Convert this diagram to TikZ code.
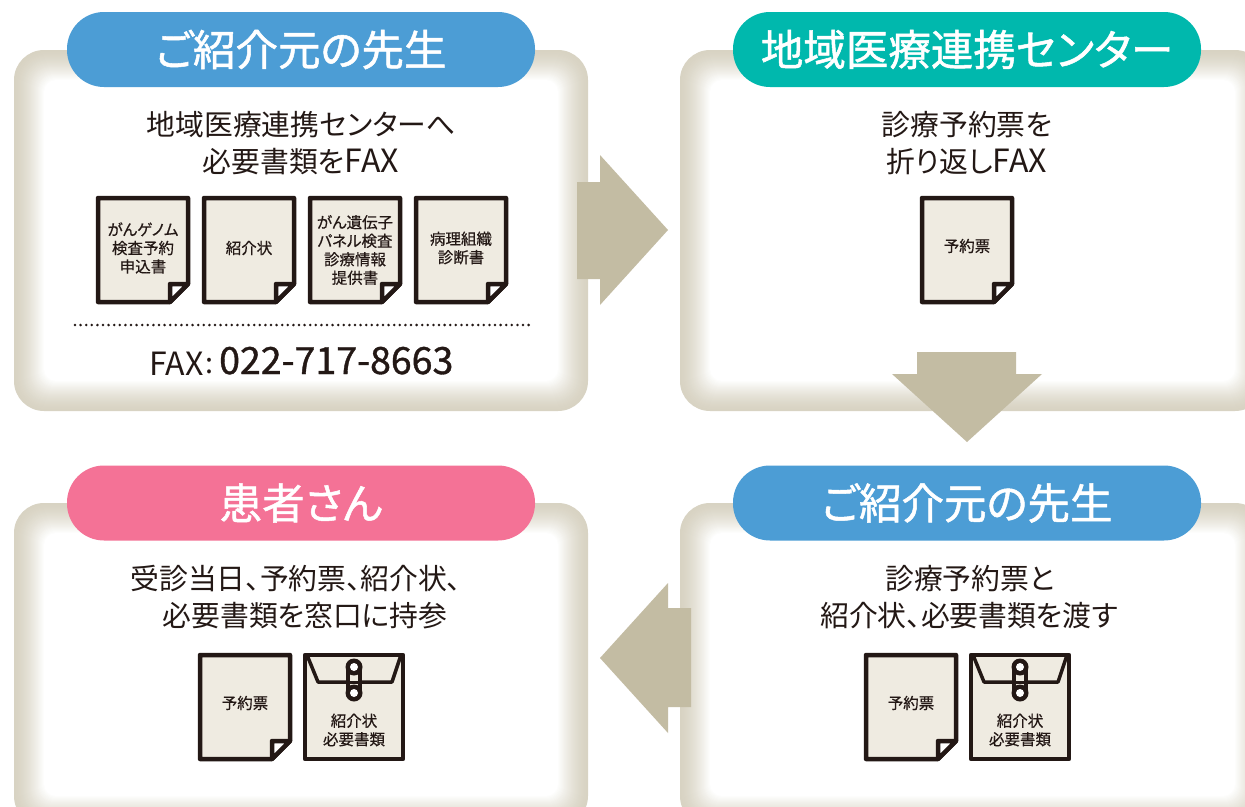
\documentclass[tikz,border=0pt]{standalone}
\usepackage{fontspec}
\setmainfont[RawFeature=+palt]{Noto Sans CJK JP}
\newfontfamily\headfont[FakeBold=1.2,RawFeature=+palt]{Noto Sans CJK JP}
\newfontfamily\numfont[FakeBold=1]{Noto Sans CJK JP}
\newfontfamily\labelfont[FakeBold=0.5,RawFeature=+palt]{Noto Sans CJK JP}
\definecolor{panelbeige}{HTML}{D8D3C3}
\definecolor{arrowbeige}{HTML}{C3BCA3}
\definecolor{paperbeige}{HTML}{EFEBE1}
\definecolor{inkdark}{HTML}{231815}
\definecolor{pillblue}{HTML}{4C9DD5}
\definecolor{pillteal}{HTML}{00B8AD}
\definecolor{pillpink}{HTML}{F47296}
\tikzset{
	headpill/.style={rounded corners=37pt,minimum width=468pt,minimum height=75pt,inner sep=0pt,text=white,font=\headfont\fontsize{42.5}{42.5}\selectfont},
	bodytext/.style={text=inkdark,inner sep=0pt,font=\fontsize{28.8}{28.8}\selectfont},
	doctext/.style={text=inkdark,inner sep=0pt,align=center,font=\labelfont\fontsize{15.5}{18.5}\selectfont},
	sheetline/.style={draw=inkdark,line width=4.5pt,line join=round},
	bigarrow/.style={fill=arrowbeige,draw=none}
}
\newcommand{\faxword}{{\fontsize{32}{32}\selectfont FAX}}
% soft edged panel: x0, y0, x1, y1
\newcommand{\softpanel}[4]{
	\foreach \i in {0,...,30}{
		\pgfmathsetmacro{\mixval}{100*(\i/30)^1.5}
		\fill [white!\mixval!panelbeige,rounded corners={max(30-\i*0.6,6)*1pt}] (#1+\i,#2+\i) rectangle (#3-\i,#4-\i);
	}
}
% sheet with folded corner: [text shift], name, x, y, text
\newcommand{\docsheet}[5][50]{
	\draw [sheetline,fill=paperbeige] (#3,#4)--(#3+90,#4)--(#3+90,#4+86)--(#3+72,#4+104)--(#3,#4+104)--cycle;
	\draw [sheetline,fill=white] (#3+72,#4+104)--(#3+72,#4+86)--(#3+90,#4+86)--cycle;
	\node [doctext] (#2) at (#3+45,#4+#1) {#5};
}
% envelope with string fastening: name, x, y
\newcommand{\envelope}[3]{
	\draw [sheetline,fill=paperbeige] (#2,#3)--(#2+98,#3)--(#2+98,#3+104)--(#2,#3+104)--cycle;
	\draw [inkdark,line width=3.5pt,line join=round] (#2+2,#3)--(#2+13,#3+27)--(#2+87,#3+27)--(#2+96,#3);
	\fill [inkdark] (#2+41,#3+12) rectangle (#2+57,#3+38);
	\fill [paperbeige] (#2+45,#3+14) rectangle (#2+53,#3+36);
	\fill [inkdark] (#2+49,#3+12) circle (8.5);
	\fill [inkdark] (#2+49,#3+38) circle (8.5);
	\fill [white] (#2+49,#3+12) circle (4);
	\fill [white] (#2+49,#3+38) circle (4);
	\draw [inkdark,line width=3pt] (#2+41,#3+27)--(#2+57,#3+27);
	\node [doctext] (#1) at (#2+49,#3+75) {紹介状\\必要書類};
}
\begin{document}
\begin{tikzpicture}[x=1pt,y=-1pt]
	\useasboundingbox (0,0) rectangle (1245,806);
	\fill [white] (0,0) rectangle (1245,806);

	\begin{scope}
		\clip (0,0) rectangle (1245,806);
		\softpanel{14}{50}{588}{411}
		\softpanel{680}{50}{1265}{411}
		\softpanel{14}{503}{588}{826}
		\softpanel{680}{503}{1265}{826}
	\end{scope}

	% arrows between panels
	\fill [bigarrow] (577,182)--(600,182)--(600,155)--(668,230)--(600,305)--(600,279)--(577,279)--cycle;
	\fill [bigarrow] (917,352)--(1016,352)--(1016,374)--(1042,374)--(967,442)--(892,374)--(917,374)--cycle;
	\fill [bigarrow] (691,608)--(668,608)--(668,583)--(600,658)--(668,733)--(668,707)--(691,707)--cycle;

	% headings
	\node [headpill,fill=pillblue] (headsender) at (301,49.5) {ご紹介元の先生};
	\node [headpill,fill=pillteal] (headcenter) at (967,49.5) {地域医療連携センター};
	\node [headpill,fill=pillpink] (headpatient) at (301,503) {患者さん};
	\node [headpill,fill=pillblue] (headreturn) at (967,503) {ご紹介元の先生};

	% top left panel
	\node [bodytext] (senderone) at (301,125) {地域医療連携センターへ};
	\node [bodytext] (sendertwo) at (301,162) {必要書類を\faxword};
	\docsheet{docapply}{98}{198}{がんゲノム\\検査予約\\申込書}
	\docsheet{docletter}{204}{198}{紹介状}
	\docsheet[52]{docpanel}{310}{198}{がん遺伝子\\パネル検査\\診療情報\\提供書}
	\docsheet{docpatho}{416}{198}{病理組織\\診断書}
	\draw [inkdark,line width=2.8pt,line cap=round,dash pattern=on 0pt off 5.6pt] (75,325)--(530,325);
	\node [bodytext,anchor=base west] (faxlabel) at (149,375) {\faxword};
	\node [bodytext,anchor=base] (faxcolon) at (210,373) {:};
	\node [text=inkdark,inner sep=0pt,anchor=base west,font=\numfont\fontsize{37.5}{38}\selectfont] (faxnumber) at (219,374) {022-717-8663};

	% top right panel
	\node [bodytext] (centerone) at (967,125) {診療予約票を};
	\node [bodytext] (centertwo) at (967,162) {折り返し\faxword};
	\docsheet[48]{docbooking}{922}{198}{予約票}

	% bottom right panel
	\node [bodytext] (returnone) at (970,579) {診療予約票と};
	\node [bodytext] (returntwo) at (969,616) {紹介状、必要書類を渡す};
	\docsheet[48]{docbookingb}{866}{655}{予約票}
	\envelope{envreturn}{971}{655}

	% bottom left panel
	\node [bodytext] (patientone) at (296,579) {受診当日、予約票、紹介状、};
	\node [bodytext] (patienttwo) at (305,616) {必要書類を窓口に持参};
	\docsheet[48]{docbookingc}{200}{655}{予約票}
	\envelope{envpatient}{305}{655}
\end{tikzpicture}
\end{document}
